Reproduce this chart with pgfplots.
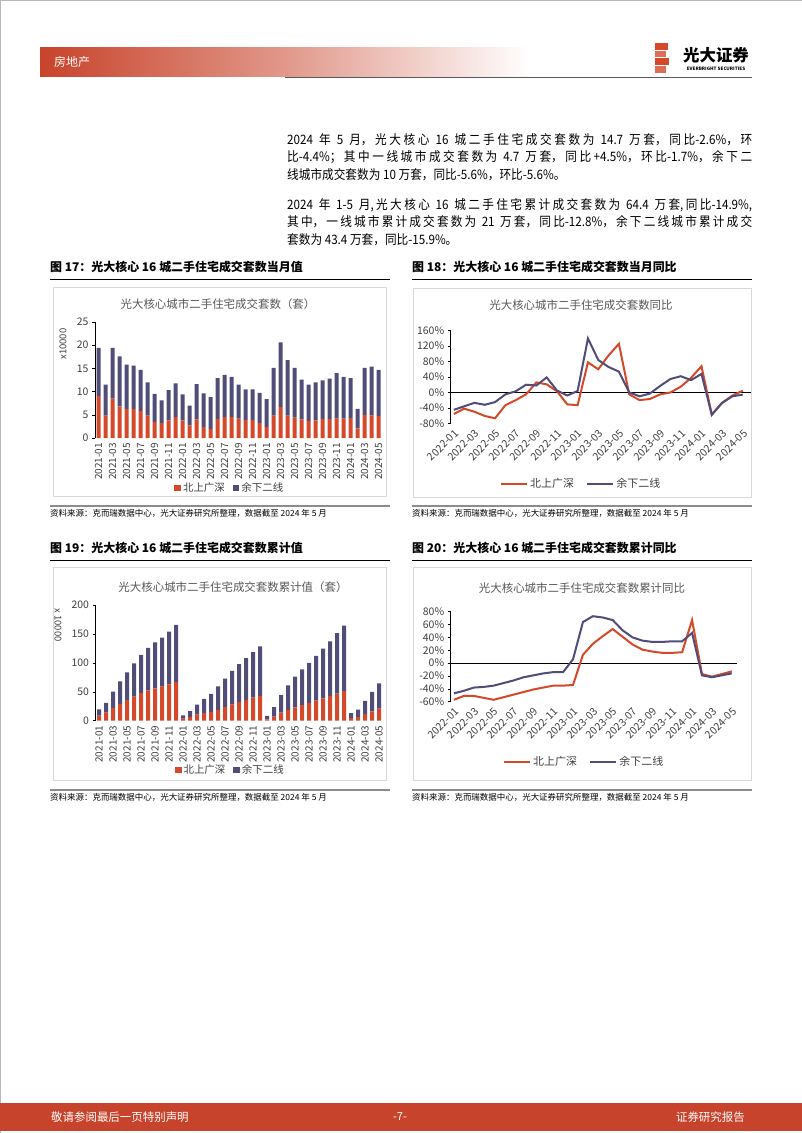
\documentclass[border=0pt]{standalone}
\usepackage{pgfplots}
\pgfplotsset{compat=1.18}
\usepackage{pgfplotstable}
\usepackage{fontspec}
\setmainfont{Noto Sans CJK SC}
\newfontfamily\cjk{Noto Sans CJK SC}
\newfontfamily\cjkbody[FakeStretch=0.9]{Noto Sans CJK SC}
\XeTeXlinebreaklocale "zh"
\XeTeXlinebreakskip=0pt plus 1pt
\definecolor{cred}{HTML}{D5492B}
\definecolor{cblue}{HTML}{504D79}
\definecolor{band}{HTML}{C8432B}
\definecolor{txt}{HTML}{404040}
\definecolor{ttl}{HTML}{595959}
\definecolor{boxc}{HTML}{D9D9D9}

% monthly transactions (x10000 units): r = Beijing/Shanghai/Guangzhou/Shenzhen, b = other second-tier
\pgfplotstableread{
x r b
0 9.0 10.4
1 4.8 6.7
2 8.5 10.9
3 6.8 10.8
4 6.3 9.5
5 6.3 9.3
6 5.8 8.9
7 4.8 7.2
8 3.5 6.0
9 3.2 4.9
10 3.8 6.5
11 4.5 7.3
12 3.8 5.6
13 2.7 4.3
14 4.0 7.6
15 2.4 7.2
16 1.9 6.9
17 4.1 8.8
18 4.5 9.1
19 4.5 8.7
20 4.2 7.3
21 3.9 6.6
22 3.9 6.6
23 3.2 6.5
24 2.4 6.0
25 4.8 10.3
26 6.7 13.9
27 4.8 12.0
28 4.4 10.7
29 4.0 8.6
30 3.7 7.8
31 3.8 8.2
32 4.1 8.3
33 4.1 8.7
34 4.2 9.8
35 4.2 9.0
36 4.3 8.6
37 2.1 4.2
38 5.0 10.1
39 4.9 10.5
40 4.7 10.0
}\monthly

% cumulative (year to date)
\pgfplotstableread{
x r b
0 9.0 10.4
1 13.8 17.1
2 22.3 28.0
3 29.1 38.8
4 35.4 48.3
5 41.7 57.6
6 47.5 66.5
7 52.3 73.7
8 55.8 79.7
9 59.0 84.6
10 62.8 91.1
11 67.3 98.4
12 3.8 5.6
13 6.5 9.9
14 10.5 17.5
15 12.9 24.7
16 14.8 31.6
17 18.9 40.4
18 23.4 49.5
19 27.9 58.2
20 32.1 65.5
21 36.0 72.1
22 39.9 78.7
23 43.1 85.2
24 2.4 6.0
25 7.2 16.3
26 13.9 30.2
27 18.7 42.2
28 23.1 52.9
29 27.1 61.5
30 30.8 69.3
31 34.6 77.5
32 38.7 85.8
33 42.8 94.5
34 47.0 104.3
35 51.2 113.3
36 4.3 8.6
37 6.4 12.8
38 11.4 22.9
39 16.3 33.4
40 21.0 43.4
}\cumul

% monthly YoY (%)
\pgfplotstableread{
x r b
0 -56 -45
1 -42 -36
2 -50 -27
3 -61 -32
4 -67 -25
5 -33 -5
6 -20 3
7 -5 20
8 26 18
9 21 39
10 3 5
11 -31 -8
12 -33 4
13 78 140
14 60 84
15 96 66
16 126 54
17 -5 0
18 -20 -10
19 -17 -3
20 -5 17
21 0 35
22 15 42
23 38 32
24 68 48
25 -57 -58
26 -27 -27
27 -8 -10
28 4.5 -5.6
}\yoy

% cumulative YoY (%)
\pgfplotstableread{
x r b
0 -57 -47
1 -51 -43
2 -51 -38
3 -54 -37
4 -57 -35
5 -53 -31
6 -49 -27
7 -45 -22
8 -41 -19
9 -38 -16
10 -35 -14
11 -35 -14
12 -34 6
13 13 64
14 30 73
15 42 71
16 53 67
17 41 51
18 29 40
19 21 35
20 18 33
21 16 33
22 16 34
23 17 34
24 67 47
25 -17 -19
26 -21 -22
27 -17 -19
28 -12.8 -15.9
}\cumyoy

\pgfplotsset{
  barbase/.style={
    scale only axis, width=287bp,
    xmin=-0.5, xmax=40.5,
    ybar stacked, bar width=4bp,
    axis y line*=left, axis x line*=bottom,
    axis line style={-}, x axis line style={draw=none},
    y axis line style={black, line width=0.6bp},
    xtick={0,2,...,40},
    xticklabels={2021-01,2021-03,2021-05,2021-07,2021-09,2021-11,2022-01,2022-03,2022-05,2022-07,2022-09,2022-11,2023-01,2023-03,2023-05,2023-07,2023-09,2023-11,2024-01,2024-03,2024-05},
    xtick style={draw=none},
    ytick style={black, line width=0.5bp},
    tick align=outside, major tick length=3bp,
    xticklabel style={rotate=90, anchor=east, font=\fontsize{10}{10}\selectfont, text=txt, inner sep=2bp},
    yticklabel style={font=\fontsize{10.5}{11}\selectfont, text=txt},
    /pgf/number format/assume math mode=true,
    legend style={anchor=center, draw=none, fill=none, font=\fontsize{10.5}{12}\selectfont, text=txt,
      legend columns=2, /tikz/every even column/.append style={column sep=6bp}},
  },
  linebase/.style={
    scale only axis,
    axis y line*=left, axis x line*=bottom,
    axis line style={-}, x axis line style={draw=none},
    y axis line style={black, line width=0.6bp},
    xtick={0,2,...,28},
    xticklabels={2022-01,2022-03,2022-05,2022-07,2022-09,2022-11,2023-01,2023-03,2023-05,2023-07,2023-09,2023-11,2024-01,2024-03,2024-05},
    xtick style={draw=none},
    ytick style={black, line width=0.5bp},
    tick align=outside, major tick length=3bp,
    xticklabel style={rotate=45, anchor=north east, font=\fontsize{10.5}{11}\selectfont, text=txt, inner sep=1.5bp},
    yticklabel style={font=\fontsize{10.5}{11}\selectfont, text=txt},
    extra y ticks={0}, extra y tick labels={},
    extra y tick style={grid=major, tick style={draw=none}},
    major grid style={black, line width=0.6bp},
    legend style={anchor=center, draw=none, fill=none, font=\fontsize{11}{12}\selectfont, text=txt,
      legend columns=2, /tikz/every even column/.append style={column sep=10bp}},
  },
}

\begin{document}
\begin{tikzpicture}
\path[use as bounding box, fill=white] (0,0) rectangle (802bp,-1133bp);
\draw[gray!55, line width=1bp] (0,0) rectangle (802bp,-1133bp);

% header
\shade[left color=band, right color=white, middle color=band!55] (40bp,-47bp) rectangle (530bp,-76bp);
\node[anchor=west, text=white, font=\cjk\fontsize{12}{14}\selectfont, inner sep=0pt] at (54bp,-61.5bp) {房地产};
\draw[line width=1.5bp, color=black!65] (285bp,-77.5bp) -- (752bp,-77.5bp);
\fill[cred] (655bp,-43bp) rectangle (668bp,-49.5bp);
\fill[cred!80] (655bp,-50.5bp) rectangle (666bp,-57bp);
\fill[cred] (655bp,-58bp) rectangle (669bp,-65bp);
\fill[cred!80] (655bp,-66bp) rectangle (666bp,-73bp);
\node[font=\cjk\bfseries\fontsize{16.5}{18}\selectfont, inner sep=0pt] at (716bp,-55bp) {光大证券};
\node[font=\bfseries\fontsize{4.6}{5}\selectfont, inner sep=0pt] at (716bp,-68.5bp) {EVERBRIGHT SECURITIES};

% body text
\node[anchor=north west, inner sep=0pt, text width=465bp, align=justify, font=\cjkbody\fontsize{13}{17.5}\selectfont] at (287bp,-133bp)
{2024 年 5 月，光大核心 16 城二手住宅成交套数为 14.7 万套，同比-2.6\%，环\linebreak 比-4.4\%；其中一线城市成交套数为 4.7 万套，同比+4.5\%，环比-1.7\%，余下二\linebreak 线城市成交套数为 10 万套，同比-5.6\%，环比-5.6\%。};
\node[anchor=north west, inner sep=0pt, text width=465bp, align=justify, font=\cjkbody\fontsize{13}{17.5}\selectfont] at (287bp,-198bp)
{2024 年 1-5 月,光大核心 16 城二手住宅累计成交套数为 64.4 万套,同比-14.9\%,\linebreak 其中，一线城市累计成交套数为 21 万套，同比-12.8\%，余下二线城市累计成交\linebreak 套数为 43.4 万套，同比-15.9\%。};

% figure titles
\node[anchor=west, inner sep=0pt, font=\cjk\bfseries\fontsize{12}{14}\selectfont] at (50bp,-267bp) {图 17：光大核心 16 城二手住宅成交套数当月值};
\node[anchor=west, inner sep=0pt, font=\cjk\bfseries\fontsize{12}{14}\selectfont] at (412bp,-267bp) {图 18：光大核心 16 城二手住宅成交套数当月同比};
\node[anchor=west, inner sep=0pt, font=\cjk\bfseries\fontsize{12}{14}\selectfont] at (50bp,-548bp) {图 19：光大核心 16 城二手住宅成交套数累计值};
\node[anchor=west, inner sep=0pt, font=\cjk\bfseries\fontsize{12}{14}\selectfont] at (412bp,-548bp) {图 20：光大核心 16 城二手住宅成交套数累计同比};
\draw[line width=0.8bp] (50bp,-279.5bp) -- (390bp,-279.5bp);
\draw[line width=0.8bp] (412bp,-279.5bp) -- (752bp,-279.5bp);
\draw[line width=0.8bp] (50bp,-560.5bp) -- (390bp,-560.5bp);
\draw[line width=0.8bp] (412bp,-560.5bp) -- (752bp,-560.5bp);

% chart boxes
\draw[boxc, line width=0.8bp] (53bp,-287bp) rectangle (386bp,-496bp);
\draw[boxc, line width=0.8bp] (413bp,-288bp) rectangle (751bp,-497bp);
\draw[boxc, line width=0.8bp] (53bp,-567bp) rectangle (386bp,-780bp);
\draw[boxc, line width=0.8bp] (413bp,-567bp) rectangle (751bp,-780bp);

% source lines
\draw[line width=1.5bp, black!45] (50bp,-506bp) -- (390bp,-506bp);
\draw[line width=1.5bp, black!45] (412bp,-506bp) -- (752bp,-506bp);
\draw[line width=1.5bp, black!45] (50bp,-790bp) -- (390bp,-790bp);
\draw[line width=1.5bp, black!45] (412bp,-790bp) -- (752bp,-790bp);
\node[anchor=west, inner sep=0pt, font=\cjk\fontsize{8.5}{10}\selectfont] at (50bp,-513bp) {资料来源：克而瑞数据中心，光大证券研究所整理，数据截至 2024 年 5 月};
\node[anchor=west, inner sep=0pt, font=\cjk\fontsize{8.5}{10}\selectfont] at (412bp,-513bp) {资料来源：克而瑞数据中心，光大证券研究所整理，数据截至 2024 年 5 月};
\node[anchor=west, inner sep=0pt, font=\cjk\fontsize{8.5}{10}\selectfont] at (50bp,-797bp) {资料来源：克而瑞数据中心，光大证券研究所整理，数据截至 2024 年 5 月};
\node[anchor=west, inner sep=0pt, font=\cjk\fontsize{8.5}{10}\selectfont] at (412bp,-797bp) {资料来源：克而瑞数据中心，光大证券研究所整理，数据截至 2024 年 5 月};

% chart titles
\node[text=ttl, font=\cjk\fontsize{11.5}{13}\selectfont] at (218bp,-304bp) {光大核心城市二手住宅成交套数（套）};
\node[text=ttl, font=\cjk\fontsize{11.5}{13}\selectfont] at (581bp,-305bp) {光大核心城市二手住宅成交套数同比};
\node[text=ttl, font=\cjk\fontsize{11.5}{13}\selectfont] at (233bp,-587bp) {光大核心城市二手住宅成交套数累计值（套）};
\node[text=ttl, font=\cjk\fontsize{11.5}{13}\selectfont] at (582bp,-588bp) {光大核心城市二手住宅成交套数累计同比};
\node[rotate=90, text=txt, font=\fontsize{9.5}{10}\selectfont] at (63bp,-344bp) {x10000};
\node[rotate=-90, text=txt, font=\fontsize{9.5}{10}\selectfont] at (58bp,-625bp) {x 10000};

% Figure 17
\begin{axis}[barbase, at={(95bp,-438bp)}, anchor=south west, height=116bp,
  ymin=0, ymax=25, ytick={0,5,...,25}, legend style={at={(0.47,-0.431)}}]
\addplot[fill=cred, draw=none, legend image code/.code={\fill[cred] (0bp,-3.3bp) rectangle (6.6bp,3.3bp);}] table[x=x,y=r]{\monthly};
\addplot[fill=cblue, draw=none, legend image code/.code={\fill[cblue] (0bp,-3.3bp) rectangle (6.6bp,3.3bp);}] table[x=x,y=b]{\monthly};
\legend{北上广深,余下二线}
\end{axis}

% Figure 19
\begin{axis}[barbase, at={(95.5bp,-720.7bp)}, anchor=south west, height=115.7bp,
  ymin=0, ymax=200, ytick={0,50,...,200}, legend style={at={(0.47,-0.426)}}]
\addplot[fill=cred, draw=none, legend image code/.code={\fill[cred] (0bp,-3.3bp) rectangle (6.6bp,3.3bp);}] table[x=x,y=r]{\cumul};
\addplot[fill=cblue, draw=none, legend image code/.code={\fill[cblue] (0bp,-3.3bp) rectangle (6.6bp,3.3bp);}] table[x=x,y=b]{\cumul};
\legend{北上广深,余下二线}
\end{axis}

% Figure 18
\begin{axis}[linebase, at={(450.7bp,-423.3bp)}, anchor=south west, width=300.3bp, height=92.6bp,
  xmin=-0.3, xmax=28.8, ymin=-80, ymax=160,
  ytick={-80,-40,0,40,80,120,160},
  yticklabels={-80\%,-40\%,0\%,40\%,80\%,120\%,160\%},
  legend style={at={(0.434,-0.655)}}]
\addplot[cred, line width=2bp, no markers, legend image code/.code={\draw[cred, line width=2.4bp] (0bp,0bp) -- (26bp,0bp);}] table[x=x,y=r]{\yoy};
\addplot[cblue, line width=2bp, no markers, legend image code/.code={\draw[cblue, line width=2.4bp] (0bp,0bp) -- (26bp,0bp);}] table[x=x,y=b]{\yoy};
\legend{北上广深,余下二线}
\end{axis}

% Figure 20
\begin{axis}[linebase, at={(450.7bp,-701.7bp)}, anchor=south west, width=286bp, height=90bp,
  xmin=-0.33, xmax=28.5, ymin=-60, ymax=80,
  ytick={-60,-40,-20,0,20,40,60,80},
  yticklabels={-60\%,-40\%,-20\%,0\%,20\%,40\%,60\%,80\%},
  legend style={at={(0.466,-0.67)}}]
\addplot[cred, line width=2bp, no markers, legend image code/.code={\draw[cred, line width=2.4bp] (0bp,0bp) -- (26bp,0bp);}] table[x=x,y=r]{\cumyoy};
\addplot[cblue, line width=2bp, no markers, legend image code/.code={\draw[cblue, line width=2.4bp] (0bp,0bp) -- (26bp,0bp);}] table[x=x,y=b]{\cumyoy};
\legend{北上广深,余下二线}
\end{axis}

% footer
\fill[band] (0bp,-1103bp) rectangle (802bp,-1131bp);
\node[anchor=west, text=white, inner sep=0pt, font=\cjk\fontsize{11.5}{13}\selectfont] at (51bp,-1117bp) {敬请参阅最后一页特别声明};
\node[text=white, inner sep=0pt, font=\cjk\fontsize{11}{13}\selectfont] at (400bp,-1117bp) {-7-};
\node[anchor=east, text=white, inner sep=0pt, font=\cjk\fontsize{11.5}{13}\selectfont] at (745bp,-1117bp) {证券研究报告};
\end{tikzpicture}
\end{document}
